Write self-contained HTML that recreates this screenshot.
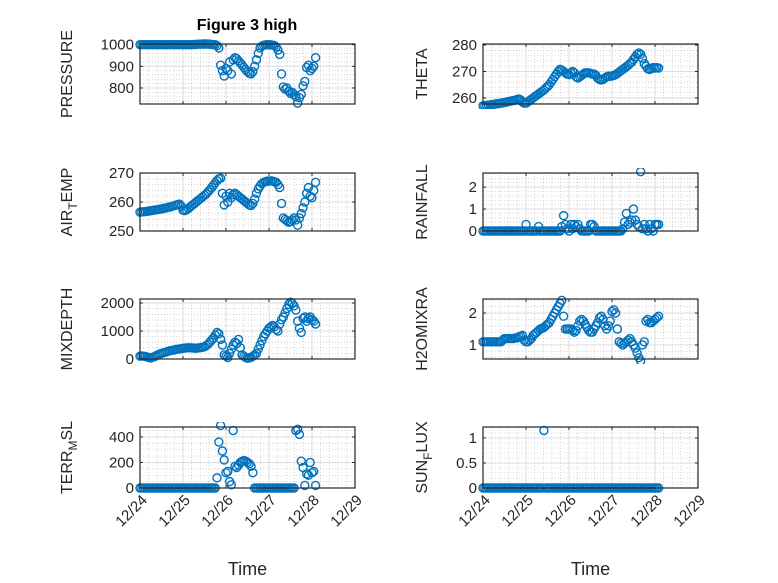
<!DOCTYPE html>
<html><head><meta charset="utf-8"><style>
html,body{margin:0;padding:0;background:#fff;}
svg{display:block;font-family:"Liberation Sans","DejaVu Sans",sans-serif;}
</style></head><body>
<svg id="fig" width="778" height="583" viewBox="0 0 778 583" xmlns="http://www.w3.org/2000/svg">
<rect width="778" height="583" fill="#fff"/>
<text x="247" y="30" text-anchor="middle" font-size="16" font-weight="bold" fill="#000">Figure 3 high</text>
</svg>
<script>
const hours = [0,1,2,3,4,5,6,7,8,9,10,11,12,13,14,15,16,17,18,19,20,21,22,23,24,25,26,27,28,29,30,31,32,33,34,35,36,37,38,39,40,41,42,43,44,45,46,47,48,49,50,51,52,53,54,55,56,57,58,59,60,61,62,63,64,65,66,67,68,69,70,71,72,73,74,75,76,77,78,79,80,81,82,83,84,85,86,87,88,89,90,91,92,93,94,95,96,97,98];
const xTickLabels = ["12/24","12/25","12/26","12/27","12/28","12/29"];
const pressure = [1000,1000,1000,1000,1000,1000,1000,1000,1000,1000,1000,1000,1000,1000,1000,1000,1000,1000,1000,1000,1000,1000,1000,1000,1000,1000,1000,1000,1000,1000,1001,1001,1002,1002,1002,1003,1003,1003,1003,1002,1001,1000,1000,995,985,905,880,855,890,880,920,865,930,940,935,925,915,905,895,885,875,868,865,875,900,930,960,985,993,997,999,1000,1000,999,998,996,990,975,955,865,805,795,800,785,775,780,770,760,730,755,770,810,830,895,905,880,890,900,940];
const airTemp = [256.5,256.6,256.6,256.7,256.8,256.9,257,257.1,257.2,257.3,257.4,257.5,257.6,257.8,257.9,258,258.2,258.3,258.5,258.7,258.9,259.1,259.3,258.5,257.2,257,257.3,257.8,258.3,258.8,259.3,259.8,260.3,260.8,261.3,261.8,262.3,262.8,263.5,264.2,265,265.8,266.6,267.4,268,268.2,263,259,262,260,263,261.5,262.5,263,262.5,262,261.5,261,260.5,260,259.5,259,258.8,259.5,261,263,264.5,265.5,266.3,266.8,267,267.2,267.2,267.3,267.2,267,266.8,266,265,259.5,254.5,254,253.5,253,253.2,253.8,254.5,253.8,252,254.5,256,258,260,263,265,262,261.5,264,266.8];
const mixDepth = [100,110,100,90,70,50,40,60,80,120,150,180,200,220,240,260,280,300,310,320,340,350,360,370,380,390,400,400,400,400,390,380,390,400,410,420,440,480,530,600,680,750,850,950,900,700,500,150,100,50,200,350,500,600,550,700,400,150,100,50,30,40,60,100,150,200,350,500,650,800,900,1000,1100,1150,1200,1150,1050,1000,1250,1400,1500,1650,1800,1950,2030,1980,1900,1750,1350,1100,950,1450,1500,1350,1450,1500,1400,1350,1250];
const terrMsl = [0,0,0,0,0,0,0,0,0,0,0,0,0,0,0,0,0,0,0,0,0,0,0,0,0,0,0,0,0,0,0,0,0,0,0,0,0,0,0,0,0,0,0,80,360,490,290,220,120,130,50,25,450,170,160,180,200,210,215,210,200,190,170,120,0,0,0,0,0,0,0,0,0,0,0,0,0,0,0,0,0,0,0,0,0,0,0,450,460,420,210,160,20,110,100,200,120,130,20];
const theta = [257,257.1,257.2,257.3,257.4,257.5,257.6,257.7,257.8,257.9,258,258.1,258.3,258.4,258.6,258.7,258.9,259,259.2,259.4,259.6,259.3,258.5,258,258,258.5,259,259.5,260,260.5,261,261.5,262,262.5,263,263.7,264.3,265,266,267,268,269,270,270.8,270.5,270,269.5,269,268.8,269.5,270,269.5,268,267.5,268,268.5,269,269.5,269.5,269.5,269.3,269,269,268.5,267.5,267,266.8,267,267.5,268,268.2,268.2,268.3,268.5,268.8,269.3,269.8,270.3,270.8,271.3,271.8,272.3,273,273.5,274.5,275.5,276.5,277,276.5,275,273,272,271,270.8,271,271.5,271.3,271.5,271.3];
const rainfall = [0,0,0,0,0,0,0,0,0,0,0,0,0,0,0,0,0,0,0,0,0,0,0,0,0.3,0,0,0,0,0,0,0.2,0,0,0,0,0,0,0,0,0,0,0,0,0.2,0.7,0.3,0.1,0,0.3,0.1,0.3,0.2,0.3,0.1,0,0,0,0,0,0.3,0.3,0.2,0,0,0,0,0,0,0,0,0,0,0,0,0,0,0,0.1,0.4,0.8,0.3,0.4,0.5,1.0,0.5,0.3,0.2,2.7,0.1,0.3,0.1,0,0.3,0.1,0,0.3,0.3,0.3];
const h2oMix = [1.1,1.1,1.1,1.1,1.1,1.1,1.1,1.1,1.1,1.1,1.1,1.15,1.2,1.2,1.2,1.2,1.2,1.2,1.22,1.22,1.25,1.28,1.3,1.15,1.1,1.1,1.15,1.2,1.3,1.35,1.4,1.45,1.5,1.52,1.55,1.6,1.65,1.7,1.8,1.9,2.0,2.1,2.2,2.3,2.4,1.9,1.5,1.5,1.5,1.5,1.45,1.4,1.45,1.6,1.75,1.8,1.75,1.65,1.55,1.45,1.4,1.4,1.5,1.6,1.7,1.85,1.9,1.8,1.6,1.5,1.6,1.75,2.05,2.1,2.0,1.5,1.1,1.05,1.0,1.05,1.1,1.15,1.2,1.1,1.0,0.9,0.75,0.6,0.5,1.0,1.1,1.75,1.8,1.7,1.7,1.75,1.8,1.85,1.9];
const sunFlux = [0,0,0,0,0,0,0,0,0,0,0,0,0,0,0,0,0,0,0,0,0,0,0,0,0,0,0,0,0,0,0,0,0,0,1.15,0,0,0,0,0,0,0,0,0,0,0,0,0,0,0,0,0,0,0,0,0,0,0,0,0,0,0,0,0,0,0,0,0,0,0,0,0,0,0,0,0,0,0,0,0,0,0,0,0,0,0,0,0,0,0,0,0,0,0,0,0,0,0,0];

const NS="http://www.w3.org/2000/svg";
const svg=document.getElementById('fig');
function mk(tag,attrs,parent){const e=document.createElementNS(NS,tag);for(const k in attrs)e.setAttribute(k,attrs[k]);(parent||svg).appendChild(e);return e;}

const panels=[
 {name:'pressure',label:['PRESSURE'],data:pressure,col:0,row:0,ylim:[726,1003],ticks:[800,900,1000],minor:20},
 {name:'theta',label:['THETA'],data:theta,col:1,row:0,ylim:[257.7,280.4],ticks:[260,270,280],minor:2},
 {name:'air-temp',label:['AIR','T','EMP'],data:airTemp,col:0,row:1,ylim:[250,270],ticks:[250,260,270],minor:2},
 {name:'rainfall',label:['RAINFALL'],data:rainfall,col:1,row:1,ylim:[0,2.64],ticks:[0,1,2],minor:0.2},
 {name:'mixdepth',label:['MIXDEPTH'],data:mixDepth,col:0,row:2,ylim:[0,2143],ticks:[0,1000,2000],minor:200},
 {name:'h2omixra',label:['H2OMIXRA'],data:h2oMix,col:1,row:2,ylim:[0.56,2.44],ticks:[1,2],minor:0.2},
 {name:'terr-msl',label:['TERR','M','SL'],data:terrMsl,col:0,row:3,ylim:[0,478],ticks:[0,200,400],minor:50},
 {name:'sun-flux',label:['SUN','F','LUX'],data:sunFlux,col:1,row:3,ylim:[0,1.22],ticks:[0,0.5,1],minor:0.1}
];
const cols=[[140,355],[483,698]];
const rows=[[44,104],[173,231],[299,359],[427,488]];

panels.forEach(p=>{
 const [x0,x1]=cols[p.col],[y0,y1]=rows[p.row];
 const g=mk('g',{});
 
 
 const xs=d=>x0+(d/5)*(x1-x0);
 const ys=v=>y1-(v-p.ylim[0])/(p.ylim[1]-p.ylim[0])*(y1-y0);
 for(let d=0;d<=5.001;d+=0.2){const X=xs(d);mk('line',{x1:X,x2:X,y1:y0,y2:y1,stroke:'#bbb','stroke-width':0.6,'stroke-dasharray':'1,2'},g);}
 const ystart=Math.ceil(p.ylim[0]/p.minor)*p.minor;
 for(let v=ystart;v<=p.ylim[1]+1e-9;v+=p.minor){const Y=ys(v);mk('line',{x1:x0,x2:x1,y1:Y,y2:Y,stroke:'#bbb','stroke-width':0.6,'stroke-dasharray':'1,2'},g);}
 for(let d=0;d<=5;d++){const X=xs(d);mk('line',{x1:X,x2:X,y1:y0,y2:y1,stroke:'#dcdcdc','stroke-width':1},g);}
 p.ticks.forEach(t=>{const Y=ys(t);mk('line',{x1:x0,x2:x1,y1:Y,y2:Y,stroke:'#dcdcdc','stroke-width':1},g);});
 p.ticks.forEach(t=>{const Y=ys(t);
  mk('line',{x1:x0,x2:x0+3,y1:Y,y2:Y,stroke:'#262626'},g);mk('line',{x1:x1,x2:x1-3,y1:Y,y2:Y,stroke:'#262626'},g);
  const tx=mk('text',{x:x0-6,y:Y+5,'text-anchor':'end','font-size':15,fill:'#262626'},g);tx.textContent=String(t);
  
  
 });
 for(let d=0;d<=5;d++){const X=xs(d);mk('line',{x1:X,x2:X,y1:y1,y2:y1-3,stroke:'#262626'},g);mk('line',{x1:X,x2:X,y1:y0,y2:y0+3,stroke:'#262626'},g);
  if(p.row===3){const tx=mk('text',{x:0,y:0,'text-anchor':'end','font-size':15,fill:'#262626',transform:`translate(${X+8},${y1+13}) rotate(-45)`},g);tx.textContent=xTickLabels[d];
   
   }
 }
 const clip='clip-'+p.name;
 const cp=mk('clipPath',{id:clip},g);mk('rect',{x:x0-5,y:y0-5,width:x1-x0+10,height:y1-y0+10},cp);
 const pg=mk('g',{'clip-path':`url(#${clip})`},g);
 p.data.forEach((v,i)=>{const c=mk('circle',{cx:xs(hours[i]/24),cy:ys(v),r:4,fill:'none',stroke:'#0072BD','stroke-width':1.4},pg);
  
  });
 mk('rect',{x:x0,y:y0,width:x1-x0,height:y1-y0,fill:'none',stroke:'#262626','stroke-width':1.2},g);
 const cy=(y0+y1)/2,lx=x0-(p.col===0?68:56);
 const yl=mk('text',{x:0,y:0,'text-anchor':'middle','font-size':16,fill:'#262626',transform:`translate(${lx},${cy}) rotate(-90)`},g);
 
 
 if(p.label.length===1){yl.textContent=p.label[0];}
 else{const a=mk('tspan',{},yl);a.textContent=p.label[0];const b=mk('tspan',{dy:5,'font-size':12},yl);b.textContent=p.label[1];const c=mk('tspan',{dy:-5},yl);c.textContent=p.label[2];}
 if(p.row===3){const t=mk('text',{x:(x0+x1)/2,y:575,'text-anchor':'middle','font-size':18,fill:'#262626'},g);t.textContent='Time';
  
  }
});
</script>
</body></html>
